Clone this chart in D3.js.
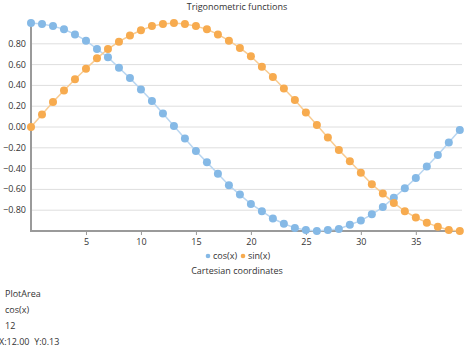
<!DOCTYPE html>
<html><head><meta charset="utf-8">
<script src="https://cdn.jsdelivr.net/npm/d3@7"></script>
<style>
body{margin:0;background:#fff;overflow:hidden}
text{font-family:"Open Sans","Noto Sans",sans-serif;fill:#333}
</style></head><body>
<svg id="c" width="474" height="348"></svg>
<script>
const xValues = d3.range(0, 40);
const cosValues = [1.00,0.99,0.97,0.94,0.89,0.83,0.75,0.67,0.57,0.47,0.36,0.25,0.13,0.01,-0.11,-0.23,-0.34,-0.45,-0.56,-0.65,-0.74,-0.81,-0.88,-0.93,-0.97,-0.99,-1.00,-0.99,-0.98,-0.94,-0.90,-0.84,-0.77,-0.68,-0.59,-0.49,-0.38,-0.27,-0.15,-0.03];
const sinValues = [0.00,0.12,0.24,0.35,0.46,0.56,0.66,0.75,0.82,0.88,0.93,0.97,0.99,1.00,0.99,0.97,0.94,0.89,0.83,0.76,0.68,0.58,0.48,0.37,0.26,0.14,0.02,-0.10,-0.22,-0.33,-0.44,-0.55,-0.64,-0.73,-0.81,-0.87,-0.92,-0.96,-0.99,-1.00];
const xTicks = [5,10,15,20,25,30,35];
const yTicks = [0.8,0.6,0.4,0.2,0,-0.2,-0.4,-0.6,-0.8];
const seriesNames = ["cos(x)","sin(x)"];
const colors = ["#85b9e6","#f7ab4f"];
const lineColors = ["#b9d6f1","#f9cc92"];

const svg = d3.select("#c");
const x = d3.scaleLinear().domain([0,39.2]).range([31,462]);
const y = d3.scaleLinear().domain([-1,1]).range([231,23]);

svg.append("text").attr("x",237).attr("y",10).attr("text-anchor","middle").attr("font-size","9px").text("Trigonometric functions");

// gridlines
svg.append("g").selectAll("line").data(yTicks).join("line")
  .attr("x1",31).attr("x2",462).attr("y1",d=>y(d)).attr("y2",d=>y(d))
  .attr("stroke","#dedede").attr("stroke-width",1);

// y labels
svg.append("g").selectAll("text").data(yTicks).join("text")
  .attr("x",26).attr("y",d=>y(d)+3).attr("text-anchor","end").attr("font-size","9px")
  .text(d=>d3.format(".2f")(d));

// x axis
const xa = svg.append("g").attr("transform",`translate(0,${y(-1)})`)
  .call(d3.axisBottom(x).tickValues(xTicks).tickSize(4).tickPadding(4));
xa.select(".domain").remove();
xa.selectAll(".tick line").attr("stroke","#999");
xa.selectAll(".tick text").attr("font-size","9px").attr("font-family","'Open Sans','Noto Sans',sans-serif").attr("fill","#333");

svg.append("line").attr("x1",31).attr("x2",462).attr("y1",y(-1)).attr("y2",y(-1)).attr("stroke","#9a9a9a").attr("stroke-width",2);
svg.append("line").attr("x1",31).attr("x2",31).attr("y1",y(1)).attr("y2",y(-1)+1).attr("stroke","#9a9a9a").attr("stroke-width",2);

const series = [cosValues, sinValues];
const line = d3.line().x((d,i)=>x(xValues[i])).y(d=>y(d));
series.forEach((vals,k)=>{
  svg.append("path").datum(vals).attr("d",line).attr("fill","none").attr("stroke",lineColors[k]).attr("stroke-width",1.5);
});
series.forEach((vals,k)=>{
  svg.append("g").selectAll("circle").data(vals).join("circle")
    .attr("cx",(d,i)=>x(xValues[i])).attr("cy",d=>y(d)).attr("r",4).attr("fill",colors[k]);
});

// legend
const lg = svg.append("g");
const legX = [208,243];
seriesNames.forEach((n,k)=>{
  lg.append("circle").attr("cx",legX[k]).attr("cy",256).attr("r",2.3).attr("fill",colors[k]);
  lg.append("text").attr("x",legX[k]+5).attr("y",259).attr("font-size","9px").text(n);
});
svg.append("text").attr("x",237).attr("y",274).attr("text-anchor","middle").attr("font-size","9px").text("Cartesian coordinates");

const info = ["PlotArea","cos(x)","12","X:12.00  Y:0.13"];
const infoX = [5,5,5,-1];
svg.append("g").selectAll("text").data(info).join("text")
  .attr("x",(d,i)=>infoX[i]).attr("y",(d,i)=>297+i*16).attr("font-size","9px").attr("fill","#222")
  .attr("xml:space","preserve").text(d=>d);
</script></body></html>
